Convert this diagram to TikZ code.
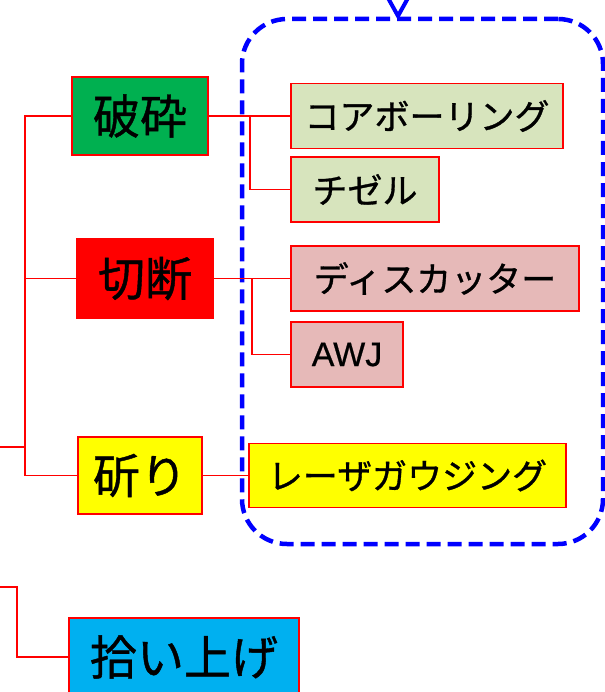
\documentclass[tikz,border=0pt]{standalone}
\usepackage{fontspec}
\setmainfont{Liberation Sans}[FakeBold=0.6]
\newfontfamily\jp{Noto Sans CJK JP}[FakeBold=0.9]
\definecolor{cgreen}{RGB}{0,176,80}
\definecolor{ccyan}{RGB}{0,176,240}
\definecolor{cyellow}{RGB}{255,255,0}
\definecolor{clgreen}{RGB}{215,228,189}
\definecolor{cpink}{RGB}{230,185,184}
\definecolor{cred}{RGB}{255,0,0}
\definecolor{cblue}{RGB}{0,0,255}
\begin{document}
\begin{tikzpicture}[x=1pt,y=-1pt,
  bigbox/.style={draw=cred,line width=1.6pt,inner sep=0pt,
    font=\jp\fontsize{47}{50}\selectfont},
  smallbox/.style={draw=cred,line width=1.4pt,inner sep=0pt,
    font=\jp\fontsize{35}{38}\selectfont},
  link/.style={draw=cred,line width=1.5pt}]
\useasboundingbox (0,0) rectangle (604,692);
% group
\node[draw=cblue,line width=4.5pt,dash pattern=on 14pt off 7pt,
  rounded corners=45pt,minimum width=361pt,minimum height=525pt,inner sep=0pt]
  (grp) at (422.5,281.5) {};
\coordinate (apex) at (398,16);
\draw[cblue,line width=4pt] ([xshift=-10pt,yshift=18pt]apex) -- (apex) -- ([xshift=10pt,yshift=18pt]apex);
% main boxes
\node[bigbox,fill=cgreen,minimum width=136pt,minimum height=78pt] (hasai) at (140,116) {破砕};
\node[bigbox,fill=cred,minimum width=136pt,minimum height=79pt] (setsudan) at (145,278.5) {切断};
\node[bigbox,fill=cyellow,minimum width=124pt,minimum height=77pt] (hatsuri) at (140,475.5) {斫り};
\node[bigbox,fill=ccyan,minimum width=230pt,minimum height=78pt] (hiroi) at (184,657) {拾い上げ};
% sub boxes
\node[smallbox,fill=clgreen,minimum width=272pt,minimum height=65pt] (core) at (427,116) {コアボーリング};
\node[smallbox,fill=clgreen,minimum width=148pt,minimum height=65pt] (chisel) at (365,189.5) {チゼル};
\node[smallbox,fill=cpink,minimum width=288pt,minimum height=65pt] (disc) at (435,278.5) {ディスカッター};
\node[smallbox,fill=cpink,minimum width=112pt,minimum height=65pt,
  font=\rmfamily\fontsize{34}{36}\selectfont] (awj) at (347,354.5) {AWJ};
\node[smallbox,fill=cyellow,minimum width=317pt,minimum height=64pt] (laser) at (407.5,475.5) {レーザガウジング};
% connectors
\coordinate (in1) at (0,447);
\coordinate (tr) at (25,447);
\coordinate (in2) at (0,587);
\coordinate (tr2) at (17,587);
\coordinate (b1) at (250,116);
\coordinate (b2) at (252,278.5);
\draw[link] (in1) -- (tr);
\draw[link] (hasai.west) -| (tr);
\draw[link] (setsudan.west) -| (tr);
\draw[link] (hatsuri.west) -| (tr);
\draw[link] (hasai.east) -- (core.west);
\draw[link] (b1) |- (chisel.west);
\draw[link] (setsudan.east) -- (disc.west);
\draw[link] (b2) |- (awj.west);
\draw[link] (hatsuri.east) -- (laser.west);
\draw[link] (in2) -- (tr2) |- (hiroi.west);
\end{tikzpicture}
\end{document}
